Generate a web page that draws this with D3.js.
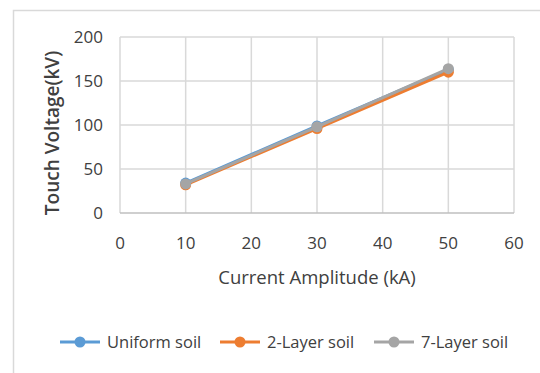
<!DOCTYPE html>
<html>
<head>
<meta charset="utf-8">
<script src="https://cdn.jsdelivr.net/npm/d3@7"></script>
<style>
  body { margin: 0; background: #fff; }
  svg { display: block; font-family: "Open Sans", sans-serif; }
</style>
</head>
<body>
<svg id="chart" width="540" height="373"></svg>
<script>
const currents = [10, 30, 50];
const uniformSoil = [34, 99, 163];
const twoLayerSoil = [32, 96, 160];
const sevenLayerSoil = [33, 98, 164];
const seriesNames = ['Uniform soil', '2-Layer soil', '7-Layer soil'];
const seriesColors = ['#5B9BD5', '#ED7D31', '#A5A5A5'];
const xTicks = [0, 10, 20, 30, 40, 50, 60];
const yTicks = [0, 50, 100, 150, 200];

const series = [uniformSoil, twoLayerSoil, sevenLayerSoil];

const svg = d3.select('#chart');
const margin = { left: 120, right: 514, top: 37, bottom: 213 };

// outer chart frame
svg.append('rect')
  .attr('x', 13.5).attr('y', 10.5)
  .attr('width', 540).attr('height', 380)
  .attr('fill', '#fff')
  .attr('stroke', '#d9d9d9')
  .attr('stroke-width', 1.5);

const x = d3.scaleLinear().domain([0, 60]).range([margin.left, margin.right]);
const y = d3.scaleLinear().domain([0, 200]).range([margin.bottom, margin.top]);

// gridlines
svg.append('g').selectAll('line').data(xTicks).join('line')
  .attr('x1', d => x(d)).attr('x2', d => x(d))
  .attr('y1', y(0)).attr('y2', y(200))
  .attr('stroke', '#d9d9d9').attr('stroke-width', 1.5);
svg.append('g').selectAll('line').data(yTicks).join('line')
  .attr('x1', x(0)).attr('x2', x(60))
  .attr('y1', d => y(d)).attr('y2', d => y(d))
  .attr('stroke', d => d === 0 ? '#bfbfbf' : '#d9d9d9').attr('stroke-width', 1.5);

// tick labels
svg.append('g').selectAll('text').data(yTicks).join('text')
  .attr('x', 103).attr('y', d => y(d))
  .attr('dy', '0.35em')
  .attr('text-anchor', 'end')
  .attr('font-size', 17).attr('fill', '#404040')
  .text(d => d);
svg.append('g').selectAll('text').data(xTicks).join('text')
  .attr('x', d => x(d)).attr('y', 243)
  .attr('dy', '0.35em')
  .attr('text-anchor', 'middle')
  .attr('font-size', 17).attr('fill', '#404040')
  .text(d => d);

// axis titles
svg.append('text')
  .attr('x', 317).attr('y', 278).attr('dy', '0.35em')
  .attr('text-anchor', 'middle')
  .attr('font-size', 18.5).attr('fill', '#404040')
  .text('Current Amplitude (kA)');
svg.append('text')
  .attr('transform', 'translate(52,133) rotate(-90)')
  .attr('dy', '0.35em')
  .attr('text-anchor', 'middle')
  .attr('font-size', 19).attr('font-weight', 600).attr('fill', '#404040')
  .text('Touch Voltage(kV)');

// series lines and markers
const line = d3.line().x((d, i) => x(currents[i])).y(d => y(d));
series.forEach((vals, k) => {
  svg.append('path')
    .datum(vals)
    .attr('d', line)
    .attr('fill', 'none')
    .attr('stroke', seriesColors[k])
    .attr('stroke-width', 3);
  svg.append('g').selectAll('circle').data(vals).join('circle')
    .attr('cx', (d, i) => x(currents[i]))
    .attr('cy', d => y(d))
    .attr('r', 5.5)
    .attr('fill', seriesColors[k]);
});

// legend
const legendX = [60, 220, 374];
const legend = svg.append('g').selectAll('g').data(seriesNames).join('g')
  .attr('transform', (d, i) => `translate(${legendX[i]},342)`);
legend.append('line')
  .attr('x1', 0).attr('x2', 40)
  .attr('stroke', (d, i) => seriesColors[i]).attr('stroke-width', 3);
legend.append('circle')
  .attr('cx', 20).attr('r', 5.5)
  .attr('fill', (d, i) => seriesColors[i]);
legend.append('text')
  .attr('x', 47).attr('dy', '0.35em')
  .attr('font-size', 16.5).attr('fill', '#404040')
  .text(d => d);
</script>
</body>
</html>
